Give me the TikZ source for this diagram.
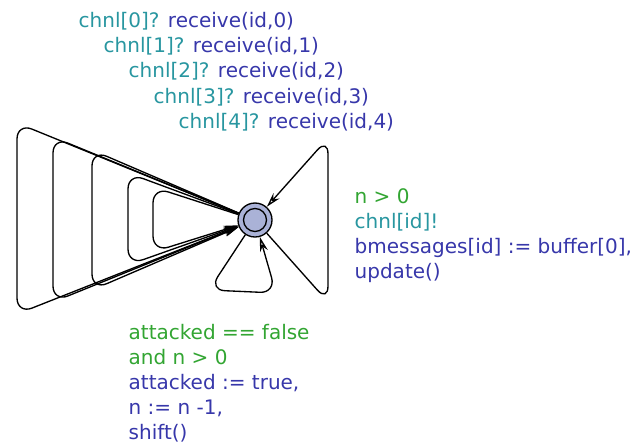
\documentclass[tikz,border=0pt]{standalone}
\usepackage{fontspec}
\setmainfont{DejaVu Sans}
\usetikzlibrary{arrows.meta}

\definecolor{syncclr}{RGB}{40,150,160}
\definecolor{updclr}{RGB}{55,55,170}
\definecolor{grdclr}{RGB}{50,165,50}
\definecolor{locclr}{RGB}{170,178,215}

\tikzset{every picture/.style={line width=1pt}}
\tikzset{
  loc/.style={circle, draw, fill=locclr, minimum size=25.5pt, inner sep=0pt},
  edge/.style={draw, rounded corners=12, -{Stealth[length=11, width=6, open]}},
  lbl/.style={anchor=base west, inner sep=0.75pt, font=\fontsize{15}{18.75}\selectfont, align=left}
}

\begin{document}
\begin{tikzpicture}[x=0.75pt,y=0.75pt,yscale=-1,xscale=1]
            \useasboundingbox (0,0) rectangle (644,444);

            % Location
            \node [loc] (loc) at (255,220) {};
            \draw (loc.center) circle (11.5);

            % Nails
            \coordinate (c0t) at (17,123);  \coordinate (c0b) at (17,314);
            \coordinate (c1t) at (53,137);  \coordinate (c1b) at (53,302);
            \coordinate (c2t) at (92,150);  \coordinate (c2b) at (92,290);
            \coordinate (c3t) at (128,173); \coordinate (c3b) at (128,265);
            \coordinate (c4t) at (153,187); \coordinate (c4b) at (153,252);
            \coordinate (rt) at (328,138);  \coordinate (rb) at (328,302);
            \coordinate (bl) at (209,290);  \coordinate (br) at (276,293);

            % Receive loops
            \foreach \i in {0,...,4}
              \draw [edge] (loc) -- (c\i t) -- (c\i b) -- (loc);

            % Send loop
            \draw [edge] (loc) -- (rb) -- (rt) -- (loc);

            % Attack loop
            \draw [edge] (loc) -- (bl) -- (br) -- (loc);

            % Text Nodes (base = last line)
            \foreach \i/\x/\y in {0/77/27, 1/102/52, 2/127/77, 3/152/103, 4/177/128}
              \node [lbl] (recv\i) at (\x,\y) {\textcolor{syncclr}{chnl[\i]?} \textcolor{updclr}{receive(id,\i)}};

            \node [lbl] (send) at (353,278) {\textcolor{grdclr}{n > 0}\\
              \textcolor{syncclr}{chnl[id]!}\\
              \textcolor{updclr}{bmessages[id] := buffer[0],}\\
              \textcolor{updclr}{update()}};

            \node [lbl] (attack) at (127,439) {\textcolor{grdclr}{attacked == false}\\
              \textcolor{grdclr}{and n > 0}\\
              \textcolor{updclr}{attacked := true,}\\
              \textcolor{updclr}{n := n -1,}\\
              \textcolor{updclr}{shift()}};

        \end{tikzpicture}
\end{document}
